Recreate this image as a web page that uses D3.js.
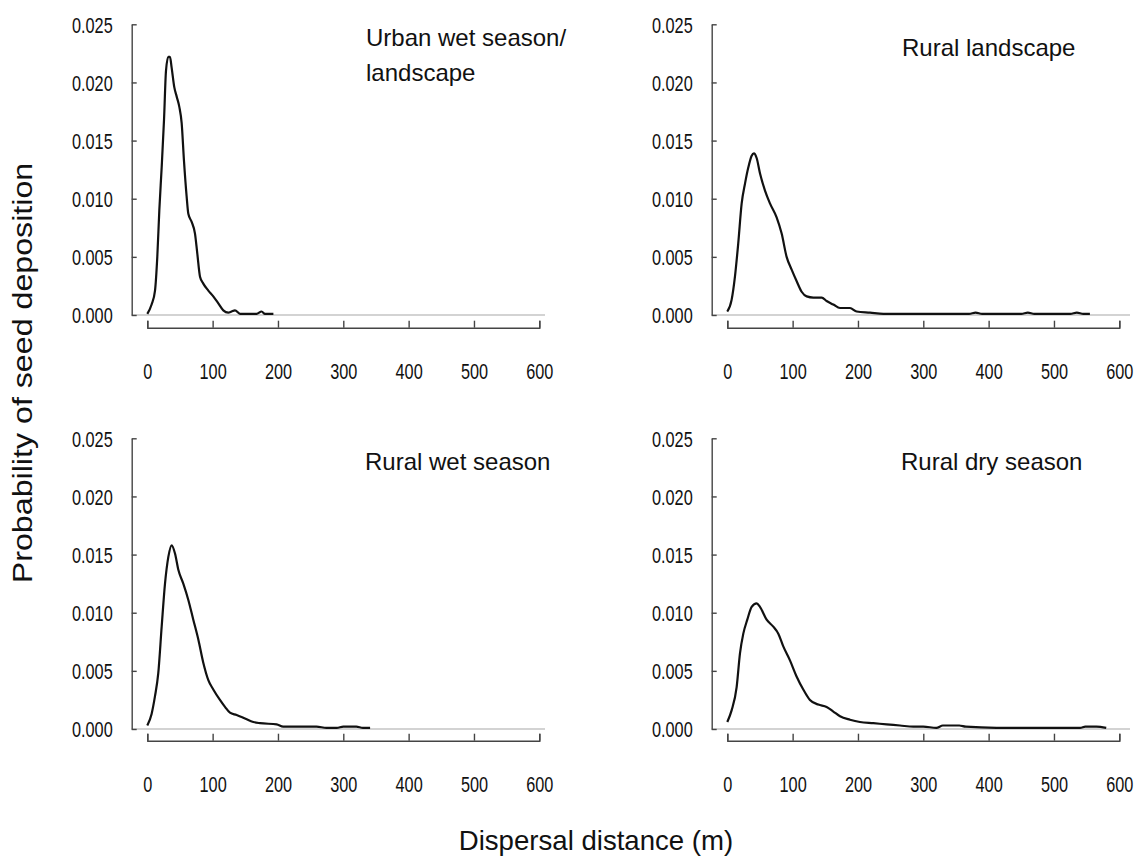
<!DOCTYPE html>
<html>
<head>
<meta charset="utf-8">
<script src="https://cdn.jsdelivr.net/npm/d3@7/dist/d3.min.js"></script>
<style>
  html, body { margin: 0; padding: 0; background: #fff; }
  svg { display: block; font-family: "Liberation Sans", Arial, sans-serif; }
</style>
</head>
<body>
<svg id="chart" width="1138" height="858"></svg>
<script>
// ---------------- DATA ----------------
const xTickValues = [0, 100, 200, 300, 400, 500, 600];
const yTickValues = [0, 0.005, 0.010, 0.015, 0.020, 0.025];
const panelTitles = [["Urban wet season/", "landscape"], ["Rural landscape"], ["Rural wet season"], ["Rural dry season"]];
const xAxisTitle = "Dispersal distance (m)";
const yAxisTitle = "Probability of seed deposition";

// Urban wet season / landscape
const urbanDist = [0, 6.6, 11.8, 15.3, 18.4, 22, 25.6, 28.6, 32.1, 34.7, 37.2, 41.3, 44.9, 49, 52.6, 56.1, 60.2, 62.8, 67.9, 73, 76.5, 80.7, 85.7, 93.4, 101, 108.7, 116.3, 124, 129, 134.2, 141.9, 152, 167.3, 175, 180, 193];
const urbanProb = [0.0001, 0.0009, 0.0021, 0.0050, 0.0090, 0.0127, 0.0168, 0.0210, 0.0222, 0.0222, 0.0213, 0.0196, 0.0188, 0.0179, 0.0165, 0.0133, 0.0102, 0.0087, 0.0080, 0.0070, 0.0053, 0.0033, 0.0027, 0.0021, 0.0016, 0.0010, 0.0004, 0.0002, 0.0003, 0.0004, 0.0001, 0.0001, 0.0001, 0.0003, 0.0001, 0.0001];

// Rural landscape
const ruralLandDist = [0, 6.6, 11.7, 16.8, 22, 27.1, 32.2, 37.3, 40.8, 44.9, 50, 57.7, 65.3, 75.5, 83.2, 90.8, 98.5, 106.2, 113.8, 121.5, 131.7, 144.5, 152, 162.3, 172.5, 187.8, 198, 218.5, 238.9, 284.8, 300, 370, 380, 390, 450, 460, 470, 525, 535, 545, 555];
const ruralLandProb = [0.0003, 0.0013, 0.0033, 0.0062, 0.0096, 0.0113, 0.0127, 0.0137, 0.0139, 0.0135, 0.0122, 0.0107, 0.0096, 0.0084, 0.0070, 0.0050, 0.0039, 0.0029, 0.0020, 0.0016, 0.0015, 0.0015, 0.0012, 0.0009, 0.0006, 0.0006, 0.0003, 0.0002, 0.0001, 0.0001, 0.0001, 0.0001, 0.0002, 0.0001, 0.0001, 0.0002, 0.0001, 0.0001, 0.0002, 0.0001, 0.0001];

// Rural wet season
const ruralWetDist = [0, 6.6, 11.7, 16.8, 22, 27.1, 32.2, 37.3, 42.4, 47.5, 55.1, 62.8, 70.4, 78.1, 85.7, 93.4, 101, 111.2, 118.9, 126.5, 136.7, 149.5, 162.3, 172.5, 198, 208, 259, 274.3, 290, 300, 320, 330, 341];
const ruralWetProb = [0.0003, 0.0013, 0.0028, 0.0048, 0.0088, 0.0125, 0.0148, 0.0158, 0.0151, 0.0137, 0.0125, 0.0111, 0.0094, 0.0077, 0.0057, 0.0042, 0.0034, 0.0025, 0.0019, 0.0014, 0.0012, 0.0009, 0.0006, 0.0005, 0.0004, 0.0002, 0.0002, 0.0001, 0.0001, 0.0002, 0.0002, 0.0001, 0.0001];

// Rural dry season
const ruralDryDist = [0, 6.6, 14.3, 19.4, 24.5, 30.6, 37.3, 44.9, 50, 60.2, 70.4, 78.1, 85.7, 95.9, 106.2, 116.3, 126.5, 139.3, 152, 162.3, 172.5, 187.8, 203, 223.5, 243.9, 264.3, 284.8, 300, 320, 330, 355, 365, 412, 420, 500, 540, 548, 565, 580];
const ruralDryProb = [0.0006, 0.0016, 0.0036, 0.0065, 0.0082, 0.0094, 0.0105, 0.0108, 0.0105, 0.0094, 0.0088, 0.0082, 0.0071, 0.0059, 0.0045, 0.0034, 0.0025, 0.0021, 0.0019, 0.0015, 0.0011, 0.0008, 0.0006, 0.0005, 0.0004, 0.0003, 0.0002, 0.0002, 0.0001, 0.0003, 0.0003, 0.0002, 0.0001, 0.0001, 0.0001, 0.0001, 0.0002, 0.0002, 0.0001];

const seriesDist = [urbanDist, ruralLandDist, ruralWetDist, ruralDryDist];
const seriesProb = [urbanProb, ruralLandProb, ruralWetProb, ruralDryProb];

// ---------------- LAYOUT ----------------
const panels = [
  { yAxisX: 131.7, x0: 147.3, x1: 539.3, yTop: 24.3, yBot: 315, xAxisY: 327.7, baseEnd: 545, titleX: 366, titleY: 46, lineGap: 35 },
  { yAxisX: 711.7, x0: 727.3, x1: 1119.3, yTop: 24.3, yBot: 315, xAxisY: 327.7, baseEnd: 1130, titleX: 902, titleY: 56, lineGap: 35 },
  { yAxisX: 131.7, x0: 147.3, x1: 539.3, yTop: 438.3, yBot: 729, xAxisY: 740.7, baseEnd: 545, titleX: 365, titleY: 470, lineGap: 35 },
  { yAxisX: 711.7, x0: 727.3, x1: 1119.3, yTop: 438.3, yBot: 729, xAxisY: 740.7, baseEnd: 1130, titleX: 901, titleY: 470, lineGap: 35 }
];

const svg = d3.select("#chart");
const tickFont = 22;
const squeeze = 0.74;

// narrow the tick labels horizontally (condensed face look) with a real transform
function condense(sel, factor) {
  sel.each(function () {
    const t = d3.select(this);
    const x0 = +t.attr("x") || 0;
    t.attr("x", x0 / factor).attr("transform", `scale(${factor},1)`);
  });
}

panels.forEach((p, i) => {
  const x = d3.scaleLinear().domain([0, 600]).range([p.x0, p.x1]);
  const y = d3.scaleLinear().domain([0, 0.025]).range([p.yBot, p.yTop]);
  const g = svg.append("g");

  // gray baseline at zero
  g.append("line")
    .attr("x1", p.yAxisX).attr("x2", p.baseEnd)
    .attr("y1", y(0)).attr("y2", y(0))
    .attr("stroke", "#c4c4c4").attr("stroke-width", 1.6);

  // y axis
  const yAx = g.append("g")
    .attr("transform", `translate(${p.yAxisX},0)`)
    .call(d3.axisLeft(y).tickValues(yTickValues).tickFormat(d3.format(".3f"))
      .tickSize(-5).tickSizeOuter(0).tickPadding(19));
  yAx.select(".domain").attr("stroke", "#444").attr("stroke-width", 1.4);
  yAx.selectAll(".tick line").attr("stroke", "#444").attr("stroke-width", 1.4);
  yAx.selectAll(".tick text").attr("font-size", tickFont).attr("fill", "#111")
    .attr("font-family", "'Liberation Sans', Arial, sans-serif").attr("dy", "0.36em");
  condense(yAx.selectAll(".tick text"), squeeze);

  // x axis (offset below)
  const xAx = g.append("g")
    .attr("transform", `translate(0,${p.xAxisY})`)
    .call(d3.axisBottom(x).tickValues(xTickValues).tickFormat(d3.format("d"))
      .tickSize(-7).tickSizeOuter(-7).tickPadding(36));
  xAx.select(".domain").attr("stroke", "#444").attr("stroke-width", 1.4).attr("fill", "none");
  xAx.selectAll(".tick line").attr("stroke", "#444").attr("stroke-width", 1.4);
  xAx.selectAll(".tick text").attr("font-size", tickFont).attr("fill", "#111")
    .attr("font-family", "'Liberation Sans', Arial, sans-serif").attr("dy", "0.71em");
  condense(xAx.selectAll(".tick text"), squeeze);

  // curve
  const pts = seriesDist[i].map((d, k) => [d, seriesProb[i][k]]);
  g.append("path")
    .datum(pts)
    .attr("fill", "none")
    .attr("stroke", "#111")
    .attr("stroke-width", 2.2)
    .attr("stroke-linejoin", "round")
    .attr("d", d3.line().x(d => x(d[0])).y(d => y(d[1])).curve(d3.curveMonotoneX));

  // title
  panelTitles[i].forEach((t, k) => {
    g.append("text")
      .attr("x", p.titleX).attr("y", p.titleY + k * p.lineGap)
      .attr("font-size", 24).attr("fill", "#111")
      .text(t);
  });
});

// axis titles
svg.append("text")
  .attr("x", 596).attr("y", 850)
  .attr("text-anchor", "middle")
  .attr("font-size", 27.6).attr("fill", "#111")
  .text(xAxisTitle);

svg.append("text")
  .attr("transform", "translate(32,373) rotate(-90) scale(1.15,1)")
  .attr("text-anchor", "middle")
  .attr("font-size", 28).attr("fill", "#111")
  .text(yAxisTitle);
</script>
</body>
</html>
